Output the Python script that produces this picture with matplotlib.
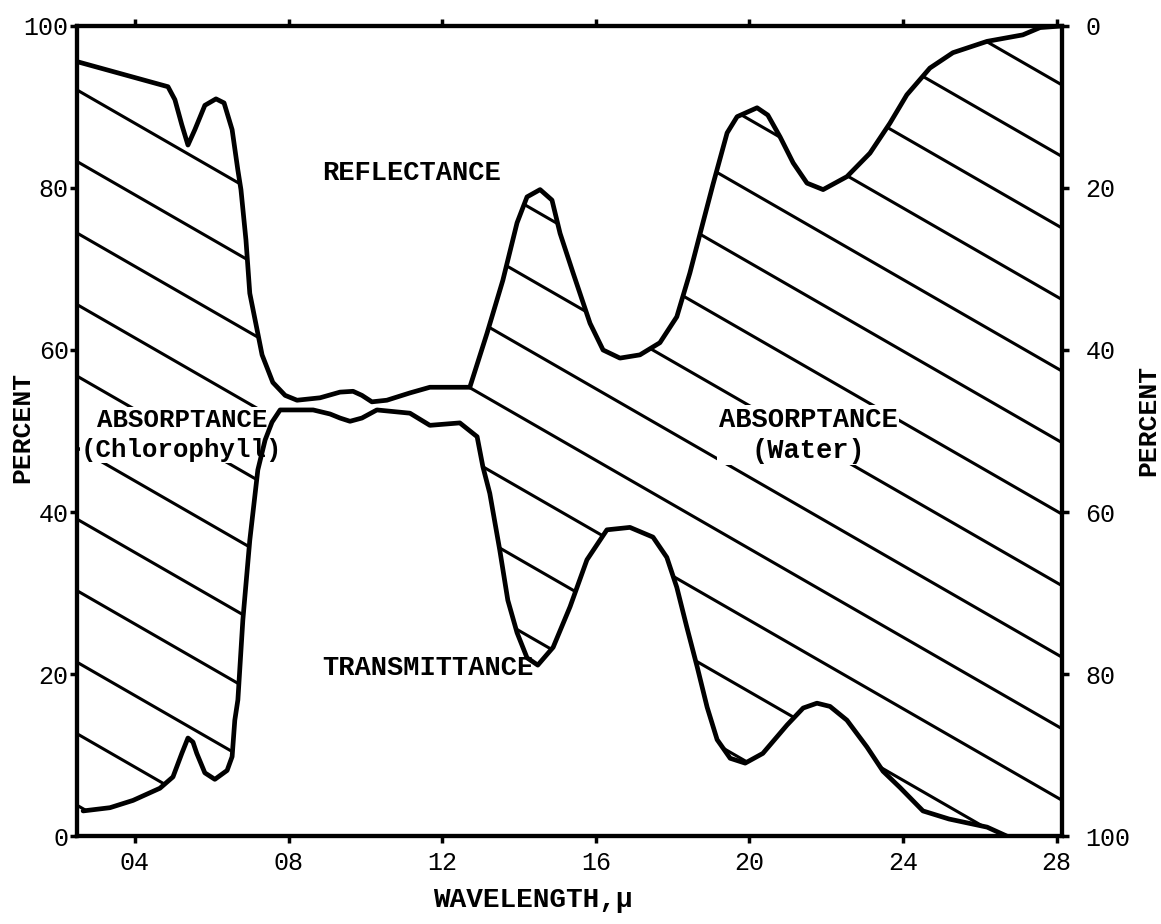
import matplotlib
matplotlib.use("Agg")
import matplotlib.pyplot as plt
from matplotlib.patches import Polygon
import numpy as np

# upper boundary of the absorptance band (left scale, percent) vs wavelength in microns
UPPER_WL = [0.249, 0.486, 0.504, 0.522, 0.538, 0.556, 0.582, 0.611, 0.632, 0.653,
            0.668, 0.676, 0.689, 0.699, 0.718, 0.731, 0.759, 0.791, 0.822, 0.882,
            0.934, 0.968, 0.991, 1.017, 1.056, 1.116, 1.168, 1.272, 1.317, 1.358,
            1.395, 1.421, 1.455, 1.486, 1.507, 1.541, 1.585, 1.619, 1.663, 1.715,
            1.767, 1.811, 1.845, 1.879, 1.905, 1.942, 1.968, 2.02, 2.048, 2.08,
            2.114, 2.15, 2.192, 2.254, 2.314, 2.366, 2.41, 2.47, 2.53, 2.619,
            2.712, 2.757]
UPPER_PCT = [95.6, 92.5, 90.9, 87.8, 85.3, 87.2, 90.2, 91.0, 90.5, 87.2,
             82.2, 79.8, 73.6, 67.0, 62.5, 59.4, 56.0, 54.4, 53.8, 54.1,
             54.8, 54.9, 54.4, 53.6, 53.8, 54.7, 55.4, 55.4, 62.1, 68.6,
             75.7, 78.9, 79.8, 78.5, 74.4, 69.5, 63.3, 60.0, 59.0, 59.4,
             60.9, 64.1, 69.5, 75.7, 80.4, 86.8, 88.8, 89.9, 89.0, 86.3,
             83.1, 80.6, 79.8, 81.4, 84.3, 88.0, 91.5, 94.8, 96.7, 98.1,
             98.9, 99.8]

# lower boundary (transmittance curve)
LOWER_WL = [0.265, 0.335, 0.395, 0.465, 0.499, 0.522, 0.538, 0.551, 0.561, 0.582,
            0.608, 0.64, 0.653, 0.66, 0.668, 0.681, 0.699, 0.72, 0.739, 0.757,
            0.778, 0.864, 0.908, 0.934, 0.96, 0.991, 1.03, 1.116, 1.168, 1.246,
            1.291, 1.306, 1.324, 1.35, 1.371, 1.395, 1.421, 1.449, 1.489, 1.533,
            1.577, 1.629, 1.689, 1.749, 1.785, 1.811, 1.837, 1.864, 1.89, 1.916,
            1.95, 1.989, 2.035, 2.098, 2.14, 2.176, 2.21, 2.254, 2.306, 2.348,
            2.392, 2.452, 2.52, 2.619, 2.67]
LOWER_PCT = [3.1, 3.5, 4.4, 5.9, 7.3, 10.2, 12.1, 11.6, 10.2, 7.8,
             7.0, 8.1, 9.8, 14.3, 16.8, 26.7, 36.5, 45.2, 48.9, 51.1,
             52.6, 52.6, 52.1, 51.6, 51.2, 51.6, 52.6, 52.2, 50.7, 51.0,
             49.3, 45.6, 42.3, 35.3, 29.1, 25.1, 22.0, 21.1, 23.3, 28.3,
             34.1, 37.8, 38.1, 36.9, 34.4, 30.7, 25.8, 20.9, 15.9, 11.9,
             9.6, 9.0, 10.2, 13.7, 15.8, 16.4, 16.0, 14.3, 11.0, 8.0,
             6.0, 3.1, 2.1, 1.1, 0.0]

X_TICKS = [0.4, 0.8, 1.2, 1.6, 2.0, 2.4, 2.8]
X_TICK_LABELS = ["04", "08", "12", "16", "20", "24", "28"]
Y_TICKS = [0, 20, 40, 60, 80, 100]

XMIN, XMAX = 0.249, 2.814

plt.rcParams["font.family"] = ["Liberation Mono", "DejaVu Sans Mono"]

fig = plt.figure(figsize=(11.61, 9.24), dpi=100)
ax = fig.add_axes([0.0663, 0.0952, 0.8484, 0.8767])
ax.set_xlim(XMIN, XMAX)
ax.set_ylim(0, 100)

ax.plot(UPPER_WL + [XMAX], UPPER_PCT + [100], color="black", lw=3.4,
        solid_capstyle="round", solid_joinstyle="round", zorder=4)
ax.plot(LOWER_WL, LOWER_PCT, color="black", lw=3.4,
        solid_capstyle="round", solid_joinstyle="round", zorder=4)

# absorptance region, used to clip the diagonal hatching
verts = list(zip(UPPER_WL, UPPER_PCT)) + [(XMAX, 100), (XMAX, 0)]
verts += list(zip(LOWER_WL[::-1], LOWER_PCT[::-1])) + [(XMIN, LOWER_PCT[0])]
region = Polygon(verts, closed=True, transform=ax.transData)

slope, spacing, c0 = 27.3, 8.83, 98.9
for k in range(-10, 12):
    c = c0 + k * spacing
    for lo, hi in [(XMIN, 0.78), (1.27, XMAX)]:
        xs = np.array([lo, hi])
        ln, = ax.plot(xs, c - slope * xs, color="black", lw=2.2, zorder=2)
        ln.set_clip_path(region)

lab = dict(fontweight="bold", ha="center", va="center", zorder=3)
box = dict(facecolor="white", edgecolor="none", pad=1)
ax.text(1.121, 81.9, "REFLECTANCE", fontsize=19.5, **lab)
ax.text(1.163, 20.7, "TRANSMITTANCE", fontsize=19.5, **lab)
ax.text(0.522, 49.5, "ABSORPTANCE\n(Chlorophyll)", fontsize=18.5,
        linespacing=1.3, bbox=box, **lab)
ax.text(2.153, 49.5, "ABSORPTANCE\n(Water)", fontsize=19.5,
        linespacing=1.25, bbox=box, **lab)

ax.set_xticks(X_TICKS)
ax.set_xticklabels(X_TICK_LABELS)
ax.set_yticks(Y_TICKS)
ax.set_yticklabels([str(v) for v in Y_TICKS])
ax.tick_params(direction="out", length=5, width=2.5, labelsize=18,
               top=True, right=False)
ax.tick_params(axis="y", pad=1)
ax.tick_params(axis="x", pad=6)

ax2 = ax.twinx()
ax2.set_ylim(100, 0)
ax2.set_yticks(Y_TICKS)
ax2.set_yticklabels([str(v) for v in Y_TICKS])
ax2.tick_params(direction="out", length=5, width=2.5, labelsize=18, pad=12)

for a in (ax, ax2):
    for s in a.spines.values():
        s.set_linewidth(3)
        s.set_zorder(5)

fig.text(0.019, 0.537, "PERCENT", rotation=90, fontsize=19, fontweight="bold",
         ha="center", va="center")
fig.text(0.989, 0.545, "PERCENT", rotation=90, fontsize=19, fontweight="bold",
         ha="center", va="center")
fig.text(0.459, 0.026, "WAVELENGTH,\u03bc", fontsize=20, fontweight="bold",
         ha="center", va="center")

fig.savefig("out.png", dpi=100)
